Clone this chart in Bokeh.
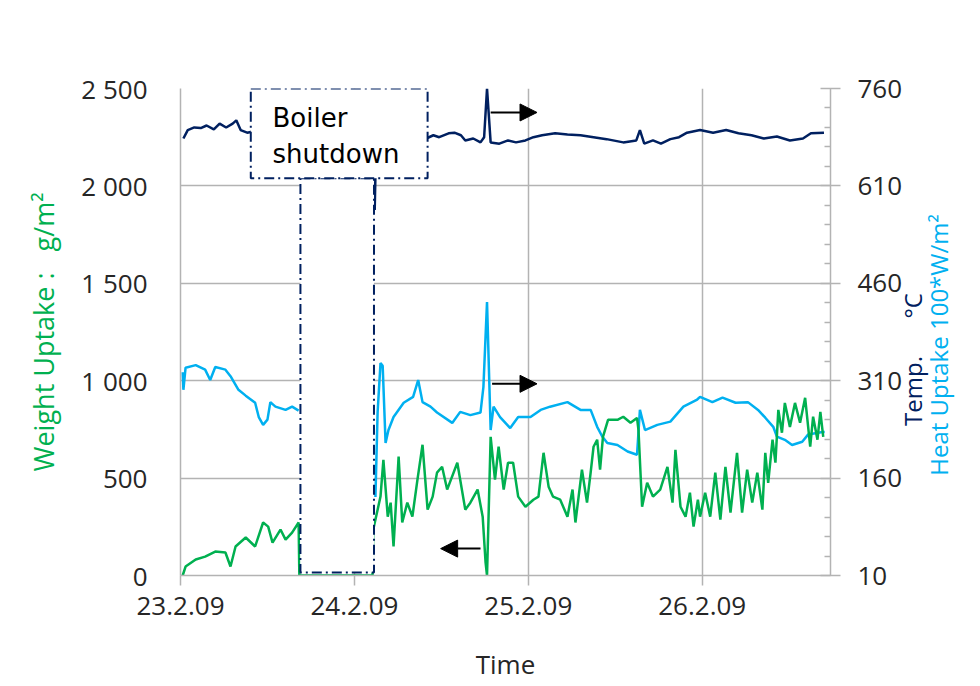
import math
from bokeh.plotting import figure
from bokeh.models import (LinearAxis, Range1d, FixedTicker, Label, Arrow, NormalHead)
from bokeh.embed import file_html
from bokeh.resources import INLINE

nan = float("nan")
NB = "\u00a0"

# ---- axis ticks / labels ----
day_ticks = [0, 24, 48, 72]                       # hours since 23.2.09 00:00
day_labels = ["23.2.09", "24.2.09", "25.2.09", "26.2.09"]
weight_ticks = [0, 500, 1000, 1500, 2000, 2500]
weight_labels = ["0", "500", "1 000", "1 500", "2 000", "2 500"]
temp_ticks = [10, 160, 310, 460, 610, 760]
temp_minor = [40, 70, 100, 130, 190, 220, 250, 280, 340, 370, 400, 430,
              490, 520, 550, 580, 640, 670, 700, 730]

# ---- Weight uptake (g/m2, left axis) ----
green_t = [0.3, 0.7, 2.1, 3.4, 4.8, 6.2, 6.9, 7.6, 9.0, 10.3, 11.4, 12.1, 12.7, 13.8, 14.5, 15.4,
           16.3, 16.4, 20.0, 22.0, 26.5, 26.6, 27.6, 28.0, 28.6, 29.0, 29.4, 30.1, 30.6, 31.3,
           32.0, 32.7, 33.4, 34.1, 34.8, 35.4, 36.1, 36.8, 38.2, 39.3, 40.0, 41.0, 41.7, 42.1,
           42.3, 42.8, 43.4, 43.9, 44.6, 45.2, 45.9, 46.6, 47.6, 48.7, 49.4, 50.1, 50.8, 51.4,
           52.4, 53.4, 54.1, 54.5, 55.4, 56.1, 56.6, 57.0, 57.5, 57.9, 58.3, 59.0, 60.3, 61.1,
           62.1, 63.0, 63.2, 63.7, 64.4, 65.2, 66.2, 67.2, 67.9, 68.3, 69.0, 69.7, 70.3, 70.8,
           71.4, 71.7, 72.4, 73.1, 73.8, 74.5, 75.2, 75.9, 76.8, 77.5, 78.2, 78.9, 79.6, 80.3,
           80.7, 81.1, 81.7, 82.1, 82.5, 83.0, 83.4, 84.1, 84.8, 85.5, 86.2, 86.9, 87.3, 87.9,
           88.3, 88.7]
green_v = [0, 46, 82, 97, 123, 118, 46, 149, 195, 149, 272, 251, 169, 236, 184, 220,
           272, 0, 0, 0, 0, 236, 405, 594, 302, 374, 149, 610, 272, 374,
           302, 492, 671, 338, 405, 528, 558, 441, 579, 338, 374, 441, 302, 67,
           0, 712, 492, 661, 441, 579, 579, 405, 353, 389, 405, 630, 456, 405,
           389, 302, 441, 272, 543, 374, 528, 661, 697, 543, 712, 799, 799, 815,
           784, 809, 748, 353, 476, 405, 441, 558, 374, 645, 353, 302, 425, 251,
           389, 302, 425, 302, 528, 287, 558, 323, 630, 323, 543, 374, 528, 338,
           630, 476, 697, 579, 850, 733, 886, 763, 886, 784, 912, 661, 815, 697,
           840, 712]

# ---- Heat uptake (100*W/m2, right axis) ----
heat_t = [0.3, 0.4, 0.7, 2.1, 3.4, 4.1, 4.8, 6.2, 6.9, 8.0, 9.0, 10.3, 10.8, 11.4, 12.0, 12.4,
          13.1, 14.5, 15.4, 16.3, 20.0, 26.9, 27.2, 27.6, 27.9, 28.3, 28.7, 29.4, 30.8, 32.1,
          32.8, 33.4, 34.5, 35.4, 37.5, 38.6, 40.0, 41.4, 41.8, 42.3, 42.8, 43.2, 44.1, 45.5,
          46.6, 48.3, 49.7, 51.0, 53.4, 55.2, 56.6, 57.5, 58.2, 58.9, 60.3, 61.7, 63.0, 63.4,
          64.1, 65.8, 67.6, 69.4, 71.3, 71.7, 73.4, 74.8, 76.6, 78.3, 79.7, 80.7, 81.8, 82.3,
          83.4, 84.4, 85.8, 86.6, 88.6, 88.9]
heat_v = [323, 296, 330, 334, 327, 311, 331, 327, 317, 296, 287, 276, 254, 242, 250, 277,
          270, 265, 270, 264, nan, 131, 261, 337, 333, 214, 234, 254, 276, 285,
          311, 277, 270, 261, 245, 262, 257, 261, 300, 431, 234, 270, 254, 237,
          254, 254, 265, 270, 277, 265, 265, 239, 224, 214, 211, 201, 196, 265,
          234, 242, 247, 270, 281, 285, 277, 284, 276, 277, 265, 253, 239, 224,
          219, 211, 216, 227, 231, 231]

# ---- Temperature (deg C, right axis) ----
temp_t = [0.4, 1.0, 1.9, 2.8, 3.6, 4.6, 5.4, 6.3, 7.2, 7.7, 8.3, 9.2, 11.0, 13.8, 16.3, 20.0,
          26.8, 27.0, 30.0, 33.9, 34.9, 35.7, 37.0, 37.8, 38.7, 39.3, 40.4, 41.4, 41.9, 42.3,
          42.8, 44.0, 45.2, 46.3, 47.6, 48.7, 49.9, 51.7, 53.4, 55.2, 57.0, 58.8, 61.1, 62.9,
          63.4, 64.0, 65.2, 66.3, 67.6, 68.8, 69.9, 71.7, 73.5, 75.3, 77.0, 78.8, 80.5, 82.3,
          84.1, 85.9, 87.0, 88.8]
temp_v = [683, 696, 700, 699, 703, 697, 706, 700, 706, 711, 696, 692, 696, 697, 696, nan,
          573, 680, 688, 683, 688, 685, 691, 692, 688, 680, 683, 677, 685, 760,
          677, 675, 680, 677, 680, 685, 688, 691, 689, 688, 685, 682, 677, 680,
          696, 675, 680, 675, 682, 685, 692, 696, 692, 696, 691, 688, 683, 686,
          680, 683, 691, 692]

# ---- shutdown annotation boxes (hours / g/m2) ----
label_box = [9.7, 34.1, 2039, 2500]       # left, right, bottom, top
shutdown_box = [16.55, 26.7, 15, 2039]

GREEN = "#00B050"
LBLUE = "#00B0F0"
NAVY = "#002060"
GRID = "#b3b3b3"
TXT = "#262626"
FONT = "Open Sans"

p = figure(width=978, height=684, min_border_left=180, min_border_right=148,
           min_border_top=88, min_border_bottom=108,
           x_range=Range1d(0, 89.7), y_range=Range1d(0, 2500),
           output_backend="svg", toolbar_location=None)
p.extra_y_ranges = {"right": Range1d(10, 760)}
p.outline_line_color = None

# grids
p.xgrid.ticker = FixedTicker(ticks=day_ticks)
p.ygrid.ticker = FixedTicker(ticks=weight_ticks)
for g in (p.xgrid[0], p.ygrid[0]):
    g.grid_line_color = GRID
    g.grid_line_width = 1.5

# left axis
ya = p.yaxis[0]
ya.ticker = FixedTicker(ticks=weight_ticks)
ya.major_label_overrides = {t: l for t, l in zip(weight_ticks, weight_labels)}
ya.major_tick_line_color = None
ya.minor_tick_line_color = None
ya.axis_line_color = GRID
ya.axis_line_width = 1.5
ya.major_label_standoff = 27
ya.major_label_text_font = FONT
ya.major_label_text_font_size = "26px"
ya.major_label_text_color = TXT
ya.axis_label = f"Weight Uptake :{NB}{NB}{NB}g/m²"
ya.axis_label_text_color = GREEN
ya.axis_label_text_font = FONT
ya.axis_label_text_font_size = "27px"
ya.axis_label_text_font_style = "normal"
ya.axis_label_standoff = 16

# bottom axis
xa = p.xaxis[0]
xa.ticker = FixedTicker(ticks=day_ticks)
xa.major_label_overrides = {t: l for t, l in zip(day_ticks, day_labels)}
xa.major_tick_in = 0
xa.major_tick_out = 10
xa.major_tick_line_color = GRID
xa.major_tick_line_width = 1.5
xa.minor_tick_line_color = None
xa.axis_line_color = GRID
xa.axis_line_width = 1.5
xa.major_label_standoff = 11
xa.major_label_text_font = FONT
xa.major_label_text_font_size = "26px"
xa.major_label_text_color = TXT
xa.axis_label = "Time"
xa.axis_label_text_font = FONT
xa.axis_label_text_font_size = "26px"
xa.axis_label_text_font_style = "normal"
xa.axis_label_text_color = TXT
xa.axis_label_standoff = 28

# right axis (temperature / heat uptake share one scale)
ra = LinearAxis(y_range_name="right",
                ticker=FixedTicker(ticks=temp_ticks, minor_ticks=temp_minor))
ra.major_tick_in = 10
ra.major_tick_out = 10
ra.minor_tick_in = 6
ra.minor_tick_out = 0
ra.major_tick_line_color = GRID
ra.minor_tick_line_color = GRID
ra.major_tick_line_width = 1.5
ra.minor_tick_line_width = 1.5
ra.axis_line_color = GRID
ra.axis_line_width = 1.5
ra.major_label_standoff = 17
ra.major_label_text_font = FONT
ra.major_label_text_font_size = "26px"
ra.major_label_text_color = TXT
ra.axis_label = NB * 24 + f"Temp.{NB * 6}°C"
ra.axis_label_text_color = NAVY
ra.axis_label_text_font = FONT
ra.axis_label_text_font_size = "24px"
ra.axis_label_text_font_style = "normal"
ra.axis_label_align = "start"
ra.axis_label_standoff = 7
ra.axis_label_orientation = math.pi / 2
p.add_layout(ra, "right")

ra2 = LinearAxis(y_range_name="right", ticker=FixedTicker(ticks=[]))
ra2.axis_line_color = None
ra2.major_tick_line_color = None
ra2.minor_tick_line_color = None
ra2.major_tick_in = 0
ra2.major_tick_out = 0
ra2.minor_tick_in = 0
ra2.minor_tick_out = 0
ra2.major_label_standoff = 0
ra2.axis_label = NB * 16 + "Heat Uptake 100*W/m²"
ra2.axis_label_text_color = LBLUE
ra2.axis_label_text_font = FONT
ra2.axis_label_text_font_size = "24px"
ra2.axis_label_text_font_style = "normal"
ra2.axis_label_align = "start"
ra2.axis_label_standoff = -10
ra2.axis_label_orientation = math.pi / 2
p.add_layout(ra2, "right")

# data lines
p.line(heat_t, heat_v, y_range_name="right", line_color=LBLUE, line_width=2.5)
p.line(green_t, green_v, line_color=GREEN, line_width=2.5)
p.line(temp_t, temp_v, y_range_name="right", line_color=NAVY, line_width=2.5)

# shutdown boxes
for b in (shutdown_box, label_box):
    p.quad(left=[b[0]], right=[b[1]], bottom=[b[2]], top=[b[3]],
           fill_color="white", line_color=NAVY, line_width=2, line_dash="10 4 2 4")

p.add_layout(Label(x=12.7, y=2423, text="Boiler\nshutdown", text_font="DejaVu Sans",
                   text_font_size="26px", text_color="black",
                   text_align="left", text_baseline="top"))

# arrows pointing to the axis of each series
head = dict(size=17, fill_color="black", line_color="black")
p.add_layout(Arrow(end=NormalHead(**head), x_start=42.8, y_start=2377, x_end=49.2, y_end=2377,
                   line_color="black", line_width=2))
p.add_layout(Arrow(end=NormalHead(**head), x_start=43.0, y_start=984, x_end=49.2, y_end=984,
                   line_color="black", line_width=2))
p.add_layout(Arrow(end=NormalHead(**head), x_start=41.4, y_start=138, x_end=35.9, y_end=138,
                   line_color="black", line_width=2))

open("out.html", "w").write(file_html(p, INLINE))
